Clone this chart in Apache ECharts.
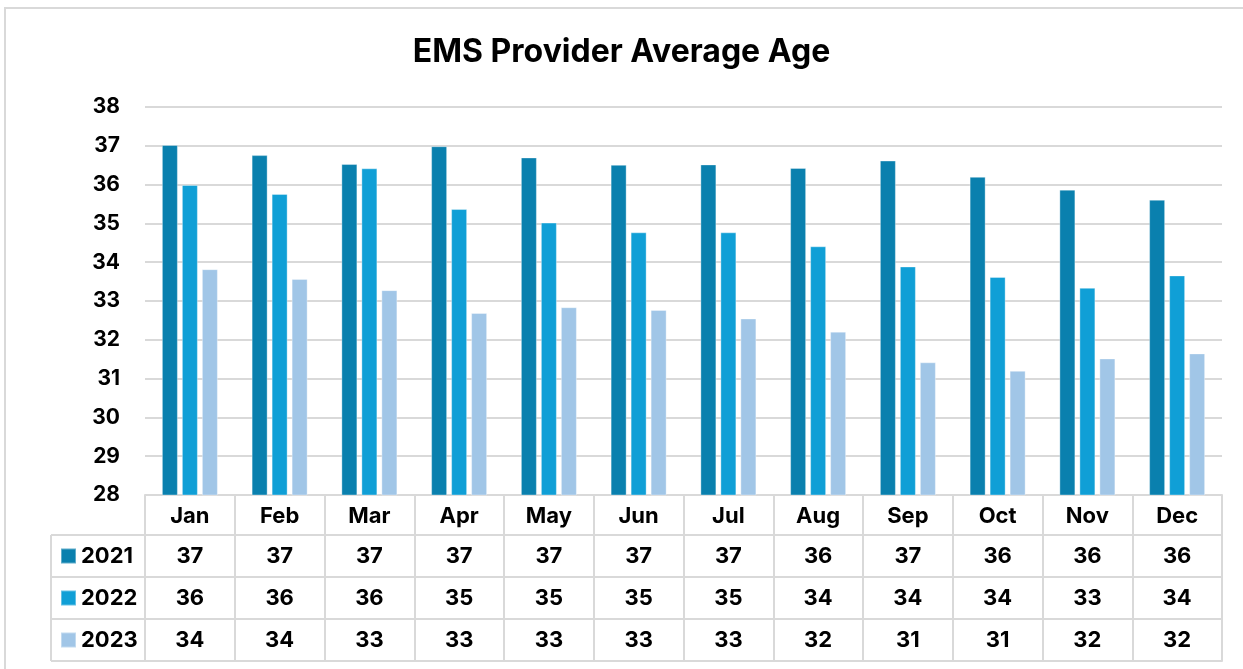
<!DOCTYPE html>
<html>
<head>
<meta charset="utf-8">
<script src="https://cdn.jsdelivr.net/npm/echarts@6/dist/echarts.min.js"></script>
<style>
html,body{margin:0;padding:0;background:#fff;}
#chart{width:1243px;height:669px;}
</style>
</head>
<body>
<div id="chart"></div>
<script>
const titleText = 'EMS Provider Average Age';
const months = ['Jan','Feb','Mar','Apr','May','Jun','Jul','Aug','Sep','Oct','Nov','Dec'];
const seriesNames = ['2021','2022','2023'];
const s2021 = [37.02, 36.76, 36.53, 36.99, 36.70, 36.51, 36.52, 36.43, 36.62, 36.20, 35.87, 35.61];
const s2022 = [35.99, 35.76, 36.42, 35.37, 35.02, 34.77, 34.77, 34.41, 33.89, 33.62, 33.34, 33.66];
const s2023 = [33.82, 33.57, 33.28, 32.69, 32.84, 32.77, 32.55, 32.21, 31.42, 31.20, 31.52, 31.65];
const yMin = 28, yMax = 38, yStep = 1;

const colors = ['#0A80AE', '#109FD6', '#A1C6E7'];
const FONT = 'Inter, "Liberation Sans", Arial, sans-serif';
const GRID_COLOR = '#D9D9D9';
const allSeries = [s2021, s2022, s2023];

const gridTop = 107, gridBottomY = 495, gridLeft = 145, gridRight = 1222;
const headerH = 40, rowH = 42;

const chart = echarts.init(document.getElementById('chart'), null, {renderer: 'canvas'});

const tableLine = {show: true, onZero: false, lineStyle: {color: GRID_COLOR, width: 2}};
const labelBase = {fontFamily: FONT, fontWeight: 'bold', fontSize: 22, color: '#000', verticalAlign: 'middle'};

const xAxes = [{
  type: 'category', data: months, position: 'bottom', offset: 0,
  axisLine: tableLine,
  axisTick: {show: true, length: headerH, lineStyle: {color: GRID_COLOR, width: 2}},
  axisLabel: Object.assign({margin: headerH / 2 + 1, interval: 0}, labelBase)
}];
allSeries.forEach((arr, k) => {
  xAxes.push({
    type: 'category', data: months, position: 'bottom', offset: headerH + k * rowH,
    axisLine: tableLine,
    axisTick: {show: true, length: rowH, lineStyle: {color: GRID_COLOR, width: 2}},
    axisLabel: Object.assign({margin: rowH / 2, interval: 0, formatter: (v, i) => String(Math.round(arr[i]))}, labelBase)
  });
});
xAxes.push({
  type: 'category', data: months, position: 'bottom', offset: headerH + 3 * rowH,
  axisLine: tableLine, axisTick: {show: false}, axisLabel: {show: false}
});

const legendTop0 = gridBottomY + headerH;
const legends = seriesNames.map((n, k) => ({
  data: [n], orient: 'vertical', left: 60, top: legendTop0 + k * rowH + rowH / 2 - 11.5,
  padding: 0, icon: 'rect', itemWidth: 15, itemHeight: 15, selectedMode: false,
  textStyle: {fontFamily: FONT, fontWeight: 'bold', fontSize: 22, color: '#000', lineHeight: 23}
}));

const tableLeft = 51;
const graphics = [
  {type: 'rect', z: -1, shape: {x: 5, y: 8, width: 1300, height: 700},
   style: {fill: 'none', stroke: GRID_COLOR, lineWidth: 2}},
  {type: 'line', shape: {x1: tableLeft, y1: legendTop0, x2: tableLeft, y2: legendTop0 + 3 * rowH},
   style: {stroke: GRID_COLOR, lineWidth: 2}}
];
for (let k = 0; k <= 3; k++) {
  const y = legendTop0 + k * rowH;
  graphics.push({type: 'line', shape: {x1: tableLeft, y1: y, x2: gridLeft, y2: y},
    style: {stroke: GRID_COLOR, lineWidth: 2}});
}

const option = {
  animation: false,
  backgroundColor: '#fff',
  title: {
    text: titleText, left: 'center', top: 31,
    textStyle: {fontFamily: FONT, fontWeight: 'bold', fontSize: 32, color: '#000'}
  },
  legend: legends,
  grid: {left: gridLeft, right: 1243 - gridRight, top: gridTop, bottom: 669 - gridBottomY, containLabel: false},
  xAxis: xAxes,
  yAxis: {
    type: 'value', min: yMin, max: yMax, interval: yStep,
    axisLine: {show: false}, axisTick: {show: false},
    splitLine: {show: true, lineStyle: {color: GRID_COLOR, width: 2}},
    axisLabel: {fontFamily: FONT, fontWeight: 'bold', fontSize: 21, color: '#000', margin: 25}
  },
  graphic: graphics,
  series: allSeries.map((arr, k) => ({
    name: seriesNames[k], type: 'bar', xAxisIndex: 0, data: arr,
    barWidth: 16, barGap: '25%',
    itemStyle: {color: colors[k], borderColor: 'rgba(255,255,255,0.35)', borderWidth: 1}
  }))
};
chart.setOption(option);
</script>
</body>
</html>
